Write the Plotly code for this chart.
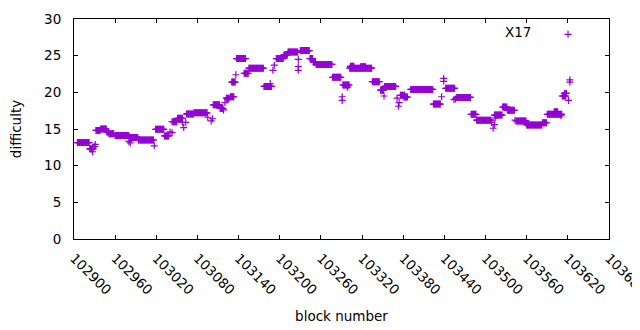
import numpy as np
import plotly.graph_objects as go

# Runs of consecutive blocks sharing (about) the same difficulty
run_start = [102905, 102923, 102932, 102939, 102948, 102951, 102960, 102981, 102994, 103019,
             103032, 103043, 103051, 103064, 103075, 103103, 103113, 103122, 103128, 103130,
             103137, 103148, 103155, 103177, 103195, 103206, 103212, 103230, 103244, 103249,
             103253, 103277, 103292, 103302, 103303, 103318, 103335, 103347, 103353, 103376,
             103381, 103391, 103424, 103442, 103458, 103479, 103487, 103513, 103525, 103532,
             103545, 103560, 103583, 103590, 103600, 103612, 103615]
run_end   = [102922, 102928, 102938, 102947, 102950, 102958, 102980, 102993, 103016, 103031,
             103038, 103050, 103058, 103074, 103094, 103112, 103117, 103126, 103133, 103135,
             103150, 103154, 103176, 103188, 103205, 103211, 103226, 103243, 103248, 103252,
             103276, 103289, 103301, 103334, 103308, 103325, 103345, 103351, 103369, 103382,
             103386, 103423, 103434, 103455, 103478, 103486, 103508, 103524, 103531, 103542,
             103559, 103582, 103589, 103611, 103605, 103617, 103618]
run_value = [13.15, 12.3, 14.8, 15.0, 14.6, 14.35, 14.1, 13.85, 13.5, 14.95,
             14.05, 16.0, 16.45, 17.05, 17.2, 18.3, 17.8, 19.2, 19.4, 21.4,
             24.6, 22.6, 23.3, 20.8, 24.6, 25.1, 25.5, 25.7, 24.6, 24.1,
             23.8, 22.05, 21.0, 23.3, 23.55, 23.5, 21.45, 20.3, 20.8, 19.6,
             19.35, 20.4, 18.4, 20.55, 19.3, 17.0, 16.2, 16.9, 18.0, 17.55,
             16.1, 15.55, 15.85, 17.0, 17.35, 19.5, 19.85]

# Isolated blocks
single_block = [102927, 102930, 102931, 102980, 102982, 103017, 103040, 103043, 103058, 103060,
                103063, 103095, 103100, 103102, 103118, 103120, 103124, 103136, 103186, 103190,
                103192, 103227, 103227, 103227, 103291, 103291, 103299, 103352, 103371, 103373,
                103374, 103436, 103439, 103439, 103454, 103456, 103509, 103511, 103513, 103514,
                103543, 103610, 103621, 103623, 103623]
single_value = [11.9, 12.6, 12.9, 13.3, 13.1, 12.7, 14.6, 14.5, 15.9, 15.2,
                15.9, 16.6, 16.1, 16.4, 17.6, 18.6, 19.0, 22.4, 21.2, 23.0,
                23.7, 24.5, 23.5, 23.0, 19.4, 18.9, 20.7, 19.5, 19.2, 18.1,
                18.6, 19.4, 21.9, 21.5, 19.0, 19.1, 15.9, 15.1, 15.6, 16.5,
                16.2, 16.8, 18.9, 21.7, 21.4]

x_ticks = list(range(102900, 103681, 60))
y_ticks = [0, 5, 10, 15, 20, 25, 30]

xs, ys = [], []
for s, e, v in zip(run_start, run_end, run_value):
    for b in range(s, e + 1):
        xs.append(b)
        ys.append(v)
xs += single_block
ys += single_value

color = "#9400D3"
fig = go.Figure()
fig.add_trace(go.Scatter(
    x=xs, y=ys, mode="markers", name="",
    marker=dict(symbol="cross-thin", size=5, color=color,
                line=dict(color=color, width=1.2)),
    showlegend=True,
))

font = dict(family="DejaVu Sans, sans-serif", size=13.5, color="#000000")
axis_common = dict(showline=True, linecolor="black", linewidth=1, mirror="ticks",
                   ticks="inside", ticklen=4, tickcolor="black", showgrid=False,
                   zeroline=False, tickfont=font, automargin=False)

# the page body adds an 8px offset, so the figure is 8px smaller on each axis
fig.update_layout(
    width=632, height=322,
    margin=dict(l=66, r=31, t=11, b=91, autoexpand=False),
    paper_bgcolor="white", plot_bgcolor="white",
    font=font,
    xaxis=dict(range=[102900, 103680], tickvals=x_ticks, ticktext=[str(t) for t in x_ticks],
               tickangle=45, ticklabelstandoff=5, ticklabeloverflow="allow",
               title=dict(text="block number", font=font, standoff=14), **axis_common),
    yaxis=dict(range=[0, 30], tickvals=y_ticks, ticklabelstandoff=9,
               title=dict(text="difficulty", font=font, standoff=21), **axis_common),
    legend=dict(x=0.972, y=1.0, xanchor="right", yanchor="top",
                bgcolor="rgba(0,0,0,0)", borderwidth=0,
                title=dict(text="X17\u00a0\u00a0", side="left", font=font),
                font=font, itemwidth=30),
)

fig.write_html("out.html")
